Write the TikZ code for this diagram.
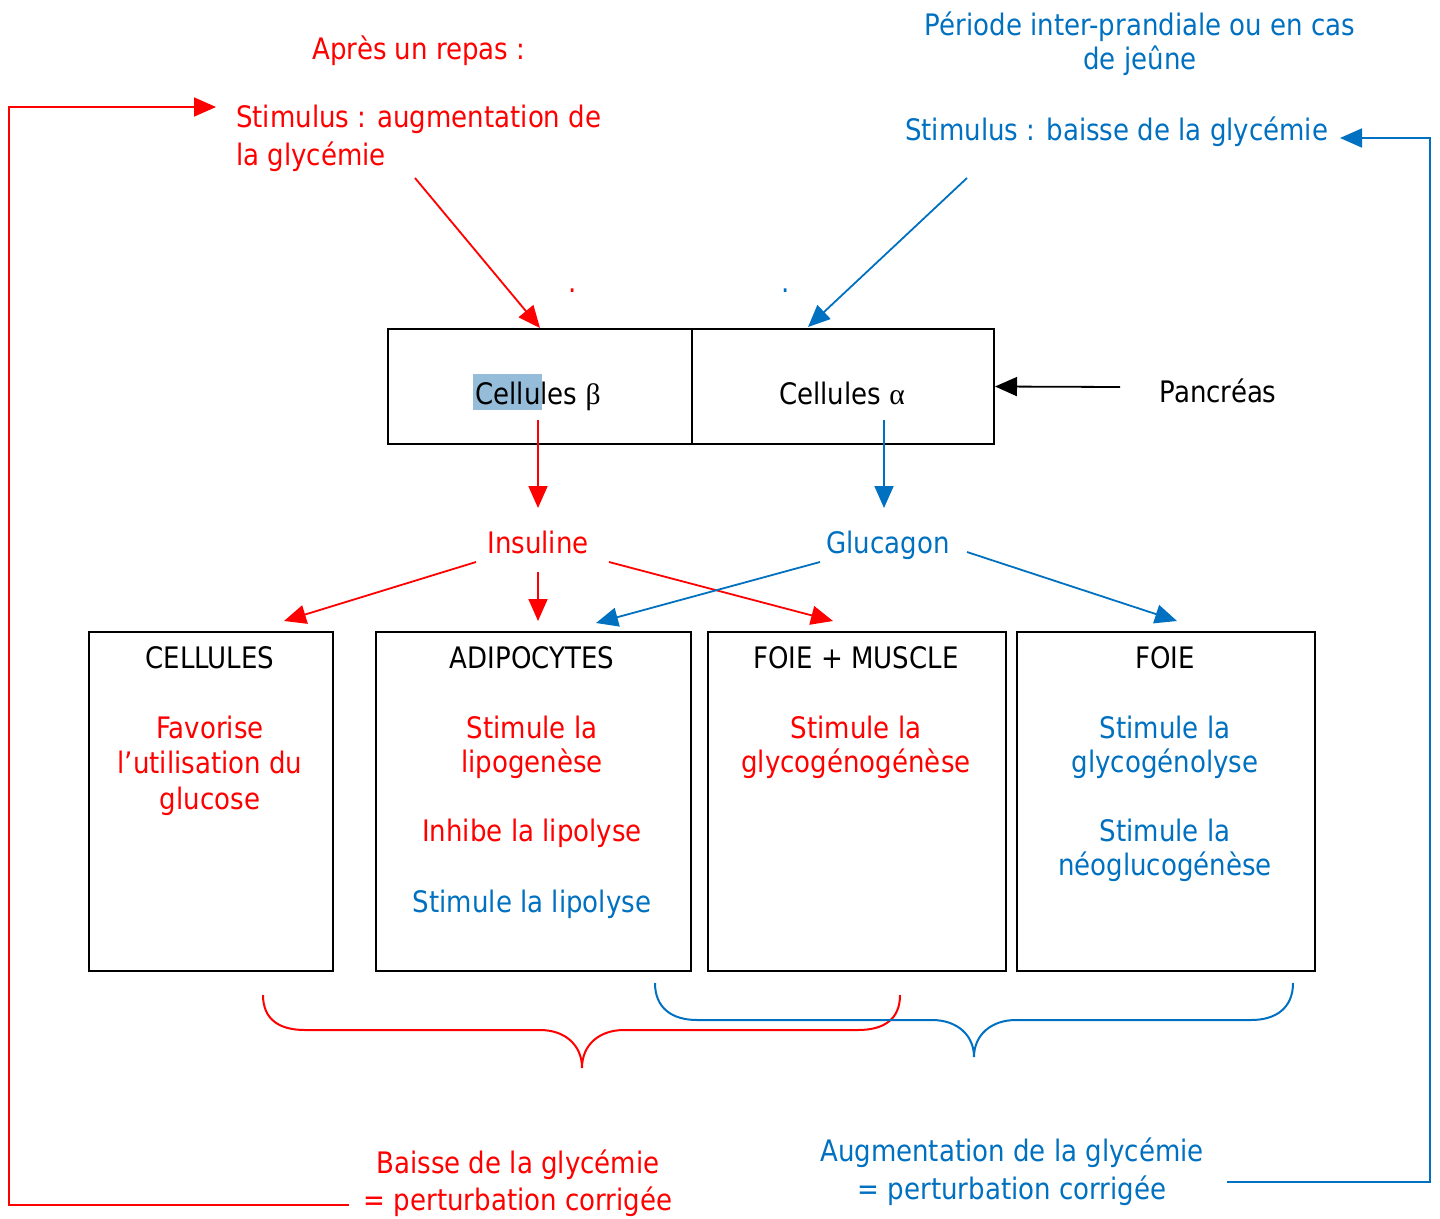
\documentclass[tikz,border=0pt]{standalone}
\usepackage{fontspec}
\setmainfont{DejaVu Sans}[FakeStretch=0.88]
\newfontfamily\grec{Liberation Serif}
\usetikzlibrary{arrows.meta}
\definecolor{rouge}{HTML}{FF0000}
\definecolor{bleu}{HTML}{0070C0}
\definecolor{surlign}{HTML}{95BDDA}
\begin{document}
\begin{tikzpicture}[x=1pt,y=-1pt,
  txt/.style={inner sep=0pt, font=\fontsize{29.6}{34.5}\selectfont, align=center, anchor=base},
  rtxt/.style={txt,text=rouge},
  btxt/.style={txt,text=bleu},
  ktxt/.style={txt,text=black},
  fleche/.style={-{Triangle[length=22pt,width=19pt]}, line width=1.8pt},
  boite/.style={draw=black, line width=2pt, inner sep=0pt, anchor=north west},
  accolade/.style={line width=2pt},
]
\useasboundingbox (0,0) rectangle (1440,1218);

% headings and stimuli (multi-line texts are placed by the baseline of their last line)
\node[rtxt] (apres) at (419,59) {Après un repas :};
\node[rtxt, align=left, anchor=base west, font=\fontsize{29.6}{38}\selectfont] (stimr) at (236,165) {Stimulus : augmentation de\\la glycémie};
\node[btxt, font=\fontsize{29.6}{34}\selectfont] (periode) at (1140,69) {Période inter-prandiale ou en cas\\de jeûne};
\node[btxt, anchor=base west] (stimb) at (905,140) {Stimulus : baisse de la glycémie};
\node[rtxt] (dotr) at (573,292) {.};
\node[btxt] (dotb) at (786,292) {.};

% pancreas
\node[boite, minimum width=304pt, minimum height=115pt] (beta) at (387,328) {};
\node[boite, minimum width=302pt, minimum height=115pt] (alpha) at (691,328) {};
\fill[surlign] (473,374) rectangle (542,410);
\node[ktxt] (tbeta) at (538,404) {Cellules {\grec β}};
\node[ktxt] (talpha) at (842,404) {Cellules {\grec α}};
\node[ktxt] (pancreas) at (1218,402) {Pancréas};

% hormones
\node[rtxt] (insuline) at (538,553) {Insuline};
\node[btxt] (glucagon) at (888,553) {Glucagon};

% target organs
\node[boite, minimum width=244pt, minimum height=339pt] (cel) at (88,631) {};
\node[boite, minimum width=315pt, minimum height=339pt] (adi) at (375,631) {};
\node[boite, minimum width=298pt, minimum height=339pt] (fm) at (707,631) {};
\node[boite, minimum width=298pt, minimum height=339pt] (foie) at (1016,631) {};

\node[ktxt] (tcel) at (210,668) {CELLULES};
\node[ktxt] (tadi) at (532,668) {ADIPOCYTES};
\node[ktxt] (tfm) at (856,668) {FOIE + MUSCLE};
\node[ktxt] (tfoie) at (1165,668) {FOIE};

\node[rtxt, font=\fontsize{29.6}{35.5}\selectfont] (ccel) at (210,809) {Favorise\\l’utilisation du\\glucose};
\node[rtxt] (cadi1) at (532,772.5) {Stimule la\\lipogenèse};
\node[rtxt] (cadi2) at (532,841) {Inhibe la lipolyse};
\node[btxt] (cadi3) at (532,912) {Stimule la lipolyse};
\node[rtxt] (cfm) at (856,772.5) {Stimule la\\glycogénogénèse};
\node[btxt] (cfoie1) at (1165,772.5) {Stimule la\\glycogénolyse};
\node[btxt] (cfoie2) at (1165,875.5) {Stimule la\\néoglucogénèse};

% results
\node[rtxt, font=\fontsize{29.6}{37}\selectfont] (baisse) at (518,1210) {Baisse de la glycémie\\= perturbation corrigée};
\node[btxt, font=\fontsize{29.6}{38}\selectfont] (augm) at (1012,1199) {Augmentation de la glycémie\\= perturbation corrigée};

% connector end points
\coordinate (sr-out) at (415,178);
\coordinate (sb-out) at (967,178);
\coordinate (alpha-in) at (808,327);
\coordinate (pan-out) at (1120,387);
\coordinate (beta-out) at (538,420);
\coordinate (ins-in) at (538,508);
\coordinate (alpha-out) at (884,420);
\coordinate (glu-in) at (884,508);
\coordinate (ins-l) at (476,562);
\coordinate (ins-m) at (538,572);
\coordinate (ins-r) at (609,562);
\coordinate (glu-l) at (820,562);
\coordinate (glu-r) at (967,552);
\coordinate (cel-in) at (284,621);
\coordinate (adi-inr) at (538,621);
\coordinate (fm-in) at (833,621);
\coordinate (adi-inb) at (596,623);
\coordinate (foie-in) at (1177,621);
\coordinate (baisse-out) at (349,1205);
\coordinate (stimr-in) at (216,107);
\coordinate (augm-out) at (1227,1182);
\coordinate (stimb-in) at (1340,138);

% arrows
\draw[fleche, rouge] (sr-out) -- (beta.north);
\draw[fleche, bleu] (sb-out) -- (alpha-in);
\draw[fleche, black] (pan-out) -- (alpha.east);
\draw[fleche, rouge] (beta-out) -- (ins-in);
\draw[fleche, bleu] (alpha-out) -- (glu-in);
\draw[fleche, rouge] (ins-l) -- (cel-in);
\draw[fleche, rouge] (ins-m) -- (adi-inr);
\draw[fleche, rouge] (ins-r) -- (fm-in);
\draw[fleche, bleu] (glu-l) -- (adi-inb);
\draw[fleche, bleu] (glu-r) -- (foie-in);

% feedback loops
\draw[fleche, rouge] (baisse-out) -- (9,1205) -- (9,107) -- (stimr-in);
\draw[fleche, bleu] (augm-out) -- (1430,1182) -- (1430,138) -- (stimb-in);

% braces
\draw[accolade, rouge] (263,995) .. controls (263,1020) and (280,1030) .. (305,1030)
  -- (540,1030) .. controls (565,1030) and (582,1045) .. (582,1068)
  .. controls (582,1045) and (599,1030) .. (624,1030)
  -- (858,1030) .. controls (883,1030) and (900,1020) .. (900,995);
\draw[accolade, bleu] (655,983) .. controls (655,1008) and (672,1020) .. (697,1020)
  -- (932,1020) .. controls (957,1020) and (974,1035) .. (974,1057)
  .. controls (974,1035) and (991,1020) .. (1016,1020)
  -- (1251,1020) .. controls (1276,1020) and (1293,1008) .. (1293,983);
\end{tikzpicture}
\end{document}
